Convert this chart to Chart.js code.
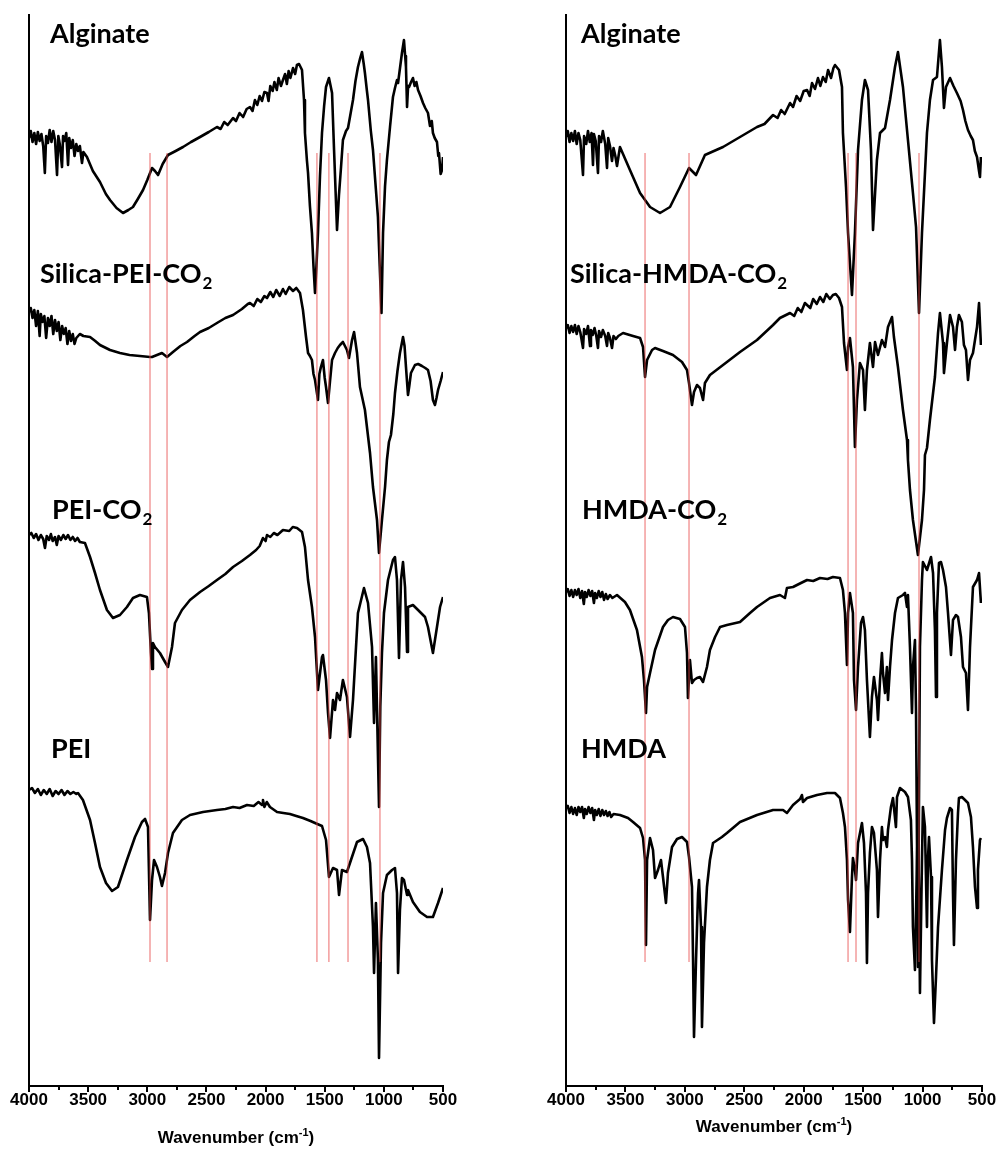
<!DOCTYPE html>
<html>
<head>
<meta charset="utf-8">
<script src="https://cdn.jsdelivr.net/npm/chart.js@4.4.0/dist/chart.umd.min.js"></script>
<style>
  body { margin: 0; background: #fff; }
  .panel { position: absolute; top: 0; }
</style>
</head>
<body>
<div class="panel" style="left:0"><canvas id="leftChart" width="470" height="1149"></canvas></div>
<div class="panel" style="left:530px"><canvas id="rightChart" width="468" height="1149"></canvas></div>
<script>
// Spectres IR empilés : [nombre d'onde (cm-1), transmittance décalée (u.a.)]
const majorTicks = [4000, 3500, 3000, 2500, 2000, 1500, 1000, 500];
const minorTicks = [3750, 3250, 2750, 2250, 1750, 1250, 750];
const bandSpan = [124, 933];
const leftBands = [2977, 2833, 1566, 1465, 1303, 1033];
const rightBands = [3335, 2965, 1627, 1560, 1030];
const leftNames = ['Alginate', 'Silica-PEI-CO₂', 'PEI-CO₂', 'PEI'];
const rightNames = ['Alginate', 'Silica-HMDA-CO₂', 'HMDA-CO₂', 'HMDA'];

const leftAlginate = [[4000,948],[3985,955],[3970,944],[3955,953],[3940,942],[3925,954],[3910,945],[3895,952],[3880,940],[3866,913],[3855,950],[3840,943],[3825,956],[3810,944],[3795,955],[3780,946],[3763,911],[3752,950],[3740,942],[3721,919],[3712,950],[3700,945],[3685,953],[3670,921],[3660,948],[3645,938],[3630,946],[3615,930],[3600,942],[3586,935],[3570,940],[3552,923],[3540,934],
  [3510,929],[3460,915],[3400,904],[3350,892],[3315,886],[3260,878],[3205,873],[3160,876],[3121,879],[3080,887],[3036,896],[3000,906],[2960,918],[2935,915],[2909,911],[2870,922],[2825,931],[2760,935],[2698,939],[2630,944],[2554,949],[2480,954],[2411,959],
  [2380,957],[2350,964],[2320,961],[2275,968],[2250,965],[2220,973],[2190,969],[2160,977],[2132,979],[2110,975],[2090,986],[2070,981],[2050,990],[2030,985],[2010,994],[1988,993],[1975,985],[1960,1000],[1940,995],[1925,1004],[1905,996],[1890,1008],[1870,1000],[1853,1006],[1835,1012],[1820,1002],[1805,1015],[1790,1008],[1768,1018],[1750,1012],[1735,1021],[1717,1022],[1700,1018],[1692,1016],[1675,986],[1667,953],[1650,925],[1641,913],[1625,880],[1608,853],[1595,820],[1582,793],[1570,820],[1557,853],[1540,910],[1523,953],[1505,980],[1489,999],[1464,1008],[1450,1000],[1438,993],[1421,936],[1396,856],[1380,890],[1362,919],[1346,946],[1320,955],[1303,958],[1285,970],[1261,986],[1240,1005],[1219,1019],[1200,1028],[1185,1034],[1170,1022],[1160,1013],[1143,995],[1134,986],[1110,955],[1092,936],[1067,896],[1050,869],[1035,820],[1020,773],[1007,853],[990,900],[974,926],[948,959],[923,989],[906,998],[889,1006],[880,1003],[847,1033],[830,1046],[820,1030],[813,1019],[804,979],[795,1000],[787,999],[770,1004],[754,1008],[740,1000],[725,1004],[711,996],[690,990],[669,983],[650,978],[627,973],[610,960],[595,965],[585,953],[570,948],[551,944],[540,930],[534,933],[520,912],[508,916],[500,929]];

const leftSilicaPei = [[4000,774],[3985,778],[3970,768],[3955,776],[3940,760],[3925,775],[3910,750],[3900,772],[3885,764],[3870,770],[3855,748],[3840,768],[3825,760],[3810,770],[3795,752],[3780,766],[3765,755],[3750,764],[3735,746],[3720,760],[3705,752],[3690,758],[3675,742],[3660,755],[3645,745],[3630,752],[3615,742],[3600,748],[3570,752],[3540,750],
  [3484,749],[3440,745],[3400,741],[3315,736],[3231,733],[3150,731],[3062,730],[2977,729],[2960,729],[2918,731],[2876,733],[2833,729],[2783,734],[2720,740],[2664,744],[2600,750],[2554,754],[2480,758],[2411,763],[2340,768],[2275,771],[2200,777],[2150,782],[2132,783],
  [2100,780],[2070,787],[2040,784],[2010,790],[1988,788],[1960,794],[1935,789],[1910,796],[1880,790],[1853,797],[1830,792],[1800,799],[1768,795],[1740,798],[1709,793],[1684,776],[1658,749],[1641,733],[1625,730],[1608,726],[1595,712],[1582,706],[1557,686],[1545,712],[1532,719],[1515,726],[1500,708],[1489,699],[1472,683],[1455,705],[1438,726],[1413,733],[1390,738],[1371,741],[1346,744],[1312,736],[1295,728],[1269,746],[1252,754],[1227,733],[1202,699],[1160,676],[1117,633],[1092,599],[1058,566],[1041,533],[1016,566],[990,599],[974,626],[957,644],[940,651],[920,672],[906,693],[885,715],[864,733],[838,749],[825,740],[813,719],[796,691],[785,700],[771,713],[737,721],[710,722],[678,720],[650,718],[627,716],[605,705],[585,686],[568,681],[555,688],[542,696],[520,705],[500,714]];

const leftPeiCo2 = [[4000,551],[3980,553],[3960,548],[3940,552],[3920,546],[3900,551],[3880,547],[3865,538],[3850,550],[3830,546],[3815,552],[3800,545],[3780,549],[3765,541],[3750,550],[3730,546],[3710,551],[3690,547],[3670,551],[3650,546],[3630,549],[3610,545],[3590,548],[3570,544],
  [3527,543],[3484,529],[3442,513],[3400,496],[3341,476],[3290,468],[3231,471],[3172,479],[3121,488],[3062,491],[3003,489],[2986,473],[2969,433],[2960,417],[2952,443],[2935,439],[2893,433],[2850,424],[2825,419],[2791,439],[2766,463],[2707,476],[2639,486],[2554,494],[2480,500],[2411,506],[2340,512],[2275,519],[2200,525],[2132,531],[2080,536],[2050,540],[2022,548],[2000,545],[1988,551],[1960,549],[1930,553],[1900,551],[1853,556],[1800,555],[1770,559],[1734,558],[1692,554],[1667,539],[1641,506],[1608,479],[1582,449],[1557,396],[1523,429],[1515,431],[1489,406],[1472,373],[1455,348],[1430,386],[1413,376],[1396,393],[1371,386],[1346,406],[1312,389],[1286,349],[1261,386],[1219,473],[1168,498],[1134,483],[1100,439],[1083,363],[1067,429],[1041,279],[1030,380],[1016,433],[999,473],[965,506],[923,526],[906,529],[889,506],[872,428],[855,506],[838,524],[821,499],[804,434],[796,479],[754,481],[711,476],[652,469],[627,459],[585,433],[551,459],[525,479],[500,489]];

const leftPei = [[4000,296],[3975,298],[3950,293],[3925,297],[3900,291],[3875,296],[3850,292],[3825,297],[3800,290],[3775,295],[3750,292],[3725,296],[3700,291],[3675,295],[3650,292],[3625,294],[3600,292],[3586,293],[3544,286],[3484,266],[3442,243],[3400,219],[3349,203],[3298,195],[3248,199],[3172,226],[3104,249],[3045,264],[3019,267],[2994,259],[2977,166],[2960,206],[2943,226],[2918,219],[2893,209],[2876,200],[2850,213],[2825,233],[2783,253],[2707,266],[2639,271],[2529,274],[2411,276],[2340,277],[2275,279],[2220,278],[2157,281],[2100,280],[2060,284],[2030,281],[2022,286],[2010,279],[1990,284],[1963,279],[1903,274],[1850,273],[1794,272],[1740,270],[1684,268],[1620,265],[1582,263],[1523,260],[1489,246],[1464,209],[1430,218],[1396,216],[1379,191],[1354,216],[1312,214],[1278,226],[1227,244],[1176,247],[1143,239],[1117,223],[1092,159],[1083,113],[1067,183],[1050,126],[1041,28],[1024,143],[1007,193],[974,211],[931,216],[906,218],[889,193],[880,113],[864,176],[847,208],[830,206],[804,191],[796,196],[754,184],[695,174],[635,169],[585,169],[542,183],[500,198]];

const rightAlginate = [[4000,949],[3985,955],[3970,944],[3955,953],[3940,945],[3925,955],[3910,942],[3895,953],[3880,946],[3857,911],[3848,950],[3830,942],[3815,955],[3800,944],[3785,953],[3773,921],[3765,952],[3750,945],[3731,913],[3722,950],[3705,944],[3690,955],[3670,942],[3655,918],[3645,948],[3630,940],[3613,925],[3600,938],[3585,930],[3571,920],[3546,939],[3462,916],[3377,893],[3293,879],[3209,873],[3125,879],[3041,899],[2965,918],[2906,911],[2831,931],[2679,939],[2536,949],[2393,959],[2330,962],[2258,971],
  [2220,968],[2190,976],[2160,972],[2115,983],[2090,979],[2060,990],[2030,985],[2000,995],[1972,996],[1950,990],[1930,1003],[1905,997],[1880,1008],[1860,1000],[1838,1009],[1815,1004],[1795,1016],[1770,1008],[1750,1018],[1737,1021],[1703,1016],[1678,999],[1670,953],[1644,899],[1627,853],[1594,791],[1569,853],[1543,936],[1510,986],[1485,1006],[1459,996],[1434,936],[1417,856],[1384,926],[1358,953],[1316,958],[1274,986],[1232,1019],[1207,1034],[1165,999],[1123,946],[1081,893],[1055,859],[1030,773],[1005,853],[963,953],[938,986],[912,1006],[879,1009],[854,1046],[837,1019],[820,978],[803,999],[769,1008],[740,1000],[711,993],[680,985],[660,976],[640,965],[618,956],[595,950],[576,946],[560,935],[542,929],[525,915],[517,909],[509,929]];

const rightSilicaHmda = [[4000,758],[3985,761],[3970,753],[3955,760],[3940,754],[3925,761],[3910,752],[3895,760],[3880,754],[3857,738],[3848,757],[3830,752],[3815,760],[3798,740],[3790,756],[3775,751],[3760,758],[3745,750],[3731,738],[3722,755],[3705,749],[3690,756],[3670,750],[3655,740],[3645,753],[3630,748],[3613,738],[3600,750],[3580,747],[3560,750],[3520,753],[3436,750],[3377,748],[3352,739],[3335,709],[3318,726],[3276,736],[3251,738],[3184,735],[3100,731],[3024,724],[2982,716],[2965,703],[2940,681],[2923,694],[2898,701],[2873,698],[2847,686],[2831,703],[2789,711],[2679,721],[2536,734],[2393,746],[2258,761],[2200,768],[2115,773],
  [2080,770],[2050,778],[2020,774],[1990,783],[1972,781],[1945,778],[1920,787],[1890,782],[1863,789],[1835,784],[1810,792],[1780,787],[1754,791],[1730,792],[1703,788],[1678,779],[1661,743],[1636,716],[1627,739],[1611,748],[1586,719],[1569,639],[1552,686],[1527,723],[1501,716],[1485,676],[1468,716],[1443,743],[1417,719],[1400,744],[1375,731],[1342,746],[1316,739],[1291,759],[1257,769],[1241,749],[1207,719],[1165,676],[1131,646],[1123,626],[1106,596],[1081,566],[1039,531],[1005,566],[988,596],[980,631],[963,638],[938,666],[896,709],[870,753],[854,773],[828,743],[820,713],[795,743],[769,771],[744,759],[727,736],[711,759],[694,771],[669,764],[652,741],[635,736],[618,706],[601,726],[576,733],[542,759],[525,783],[509,741]];

const rightHmdaCo2 = [[4000,494],[3985,497],[3970,490],[3955,496],[3940,489],[3925,496],[3910,491],[3895,497],[3880,488],[3865,495],[3850,482],[3840,494],[3825,489],[3810,496],[3795,490],[3780,495],[3765,483],[3755,493],[3740,488],[3725,495],[3710,489],[3695,494],[3680,486],[3665,492],[3650,487],[3630,491],[3610,488],[3571,491],[3504,484],[3462,476],[3403,456],[3361,429],[3344,406],[3327,373],[3318,399],[3293,413],[3251,436],[3184,459],[3142,466],[3100,469],[3041,467],[2999,459],[2982,433],[2974,388],[2957,426],[2940,403],[2923,406],[2898,408],[2873,409],[2847,404],[2814,419],[2789,436],[2746,449],[2704,459],[2646,461],[2536,464],[2452,473],[2393,479],[2284,488],[2200,491],[2158,488],[2141,498],[2090,499],[2040,502],[1972,506],[1920,505],[1863,508],[1800,507],[1754,509],[1695,508],[1670,496],[1653,473],[1636,421],[1627,473],[1611,493],[1586,473],[1577,406],[1560,376],[1543,419],[1518,463],[1501,469],[1485,456],[1468,406],[1443,349],[1426,389],[1409,409],[1384,386],[1375,366],[1358,406],[1342,433],[1333,413],[1316,393],[1300,419],[1291,386],[1274,419],[1257,446],[1232,473],[1207,488],[1165,491],[1148,493],[1131,479],[1123,491],[1106,439],[1089,373],[1081,419],[1064,446],[1055,373],[1039,119],[1022,439],[1005,506],[997,524],[963,516],[929,529],[912,513],[896,456],[887,389],[879,473],[862,523],[845,524],[828,516],[803,499],[786,473],[761,431],[744,466],[719,471],[702,469],[677,449],[660,419],[635,413],[618,376],[601,439],[576,499],[542,506],[525,513],[509,483]];

const rightHmda = [[4000,278],[3985,280],[3970,273],[3955,279],[3940,272],[3925,278],[3910,271],[3895,279],[3880,274],[3865,279],[3850,268],[3840,277],[3825,272],[3810,279],[3795,273],[3780,278],[3765,266],[3755,276],[3740,271],[3725,277],[3710,270],[3695,276],[3680,271],[3665,275],[3650,270],[3635,274],[3620,269],[3600,272],[3546,271],[3478,268],[3436,264],[3377,258],[3352,248],[3335,226],[3327,141],[3318,226],[3293,248],[3268,236],[3251,208],[3226,216],[3201,226],[3184,209],[3159,183],[3142,213],[3108,239],[3066,247],[3024,249],[2982,244],[2965,229],[2940,199],[2931,126],[2923,49],[2906,126],[2889,193],[2881,206],[2864,159],[2856,59],[2839,143],[2814,199],[2789,226],[2763,243],[2688,249],[2646,253],[2536,264],[2393,271],[2258,276],[2174,276],[2141,273],[2090,281],[2031,287],[2015,291],[2006,284],[1972,288],[1888,291],[1804,293],[1737,293],[1695,288],[1670,273],[1653,259],[1636,226],[1627,186],[1611,154],[1594,209],[1586,228],[1569,216],[1560,206],[1543,243],[1510,263],[1493,243],[1476,193],[1468,123],[1459,193],[1443,233],[1426,259],[1409,253],[1384,216],[1375,169],[1358,226],[1342,259],[1333,246],[1316,249],[1300,239],[1291,256],[1266,279],[1249,288],[1224,259],[1215,289],[1190,298],[1148,294],[1123,289],[1098,266],[1089,226],[1081,159],[1064,116],[1047,226],[1039,269],[1030,193],[1022,93],[1005,226],[997,279],[980,259],[963,159],[955,226],[946,249],[929,209],[921,126],[904,63],[887,109],[870,159],[837,216],[811,256],[795,268],[769,278],[753,276],[744,193],[736,141],[719,226],[702,273],[694,288],[669,289],[643,286],[618,283],[593,269],[576,239],[559,199],[542,178],[534,216],[517,246],[509,248]];

const tickFont = { family: '"Liberation Sans", Arial, sans-serif', weight: 'bold', size: 17, lineHeight: 1 };
const nameFont = 'bold 27px Lato, sans-serif';
const subFont = 'bold 17px Lato, sans-serif';

// Étiquettes des spectres, petits traits secondaires et titre de l'axe
function makeDecor(look) {
    return {
        id: 'decor',
        afterDraw(chart) {
            const { ctx, chartArea: a, scales: { x } } = chart;
            ctx.save();
            ctx.strokeStyle = '#000';
            ctx.lineWidth = 2;
            minorTicks.forEach(v => {
                const px = Math.round(x.getPixelForValue(v));
                ctx.beginPath();
                ctx.moveTo(px, a.bottom);
                ctx.lineTo(px, a.bottom + 4);
                ctx.stroke();
            });

            ctx.fillStyle = '#000';
            ctx.textAlign = 'left';
            ctx.textBaseline = 'alphabetic';
            look.names.forEach((name, i) => {
                const hasSub = name.endsWith('₂');
                const main = hasSub ? name.slice(0, -1) : name;
                const x0 = a.left + look.nameX[i];
                const y0 = a.top + look.nameY[i];
                ctx.font = nameFont;
                ctx.fillText(main, x0, y0);
                if (hasSub) {
                    const w = ctx.measureText(main).width;
                    ctx.font = subFont;
                    ctx.fillText('2', x0 + w + 1, y0 + 6);
                }
            });

            const big = 'bold 17px "Liberation Sans", Arial, sans-serif';
            const small = 'bold 11px "Liberation Sans", Arial, sans-serif';
            const parts = [['Wavenumber (cm', big, 0], ['-1', small, -7], [')', big, 0]];
            let total = 0;
            parts.forEach(p => { ctx.font = p[1]; total += ctx.measureText(p[0]).width; });
            let cx = (a.left + a.right) / 2 - total / 2;
            const by = a.bottom + look.titleDrop;
            parts.forEach(p => {
                ctx.font = p[1];
                ctx.fillText(p[0], cx, by + p[2]);
                cx += ctx.measureText(p[0]).width;
            });
            ctx.restore();
        }
    };
}

function drawPanel(id, spectra, bands, look) {
    const bandSets = bands.map(wn => ({
        data: [[wn, bandSpan[0]], [wn, bandSpan[1]]],
        borderColor: 'rgba(232,70,70,0.5)',
        borderWidth: 1.6,
        order: 0
    }));
    const spectraSets = spectra.map(s => ({
        data: s,
        borderColor: '#000',
        borderWidth: 2.6,
        order: 1
    }));
    new Chart(document.getElementById(id), {
        type: 'line',
        data: { datasets: bandSets.concat(spectraSets) },
        options: {
            responsive: false,
            animation: false,
            elements: {
                point: { radius: 0 },
                line: { tension: 0, borderJoinStyle: 'round', fill: false }
            },
            layout: { padding: look.padding },
            plugins: { legend: { display: false }, tooltip: { enabled: false } },
            scales: {
                x: {
                    type: 'linear',
                    min: 500,
                    max: 4000,
                    reverse: true,
                    afterBuildTicks: s => { s.ticks = majorTicks.map(v => ({ value: v })); },
                    afterFit: s => { s.height = 63; },
                    ticks: { color: '#000', font: tickFont, padding: 0, maxRotation: 0, autoSkip: false, callback: v => String(v) },
                    grid: { display: true, drawOnChartArea: false, tickLength: 6, color: '#000', lineWidth: 2 },
                    border: { display: true, color: '#000', width: 2 }
                },
                y: {
                    min: 0,
                    max: 1071,
                    afterFit: s => { s.width = 0; },
                    ticks: { display: false },
                    grid: { display: false, drawTicks: false },
                    border: { display: true, color: '#000', width: 2 }
                }
            }
        },
        plugins: [makeDecor(look)]
    });
}

drawPanel('leftChart', [leftAlginate, leftSilicaPei, leftPeiCo2, leftPei], leftBands, {
    padding: { left: 29, right: 27, top: 15, bottom: 0 },
    names: leftNames,
    nameX: [21, 11, 23, 22],
    nameY: [28, 268, 504, 743],
    titleDrop: 57
});
drawPanel('rightChart', [rightAlginate, rightSilicaHmda, rightHmdaCo2, rightHmda], rightBands, {
    padding: { left: 36, right: 16, top: 15, bottom: 0 },
    names: rightNames,
    nameX: [15, 4, 16, 15],
    nameY: [28, 268, 504, 743],
    titleDrop: 46
});
</script>
</body>
</html>
